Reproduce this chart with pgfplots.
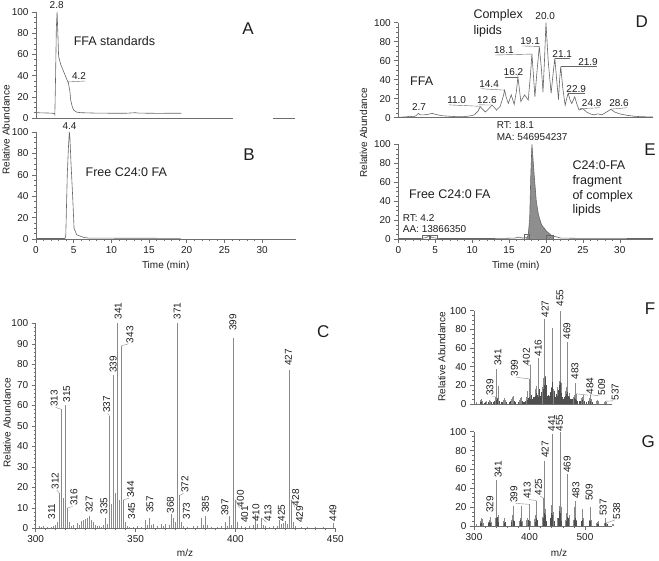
\documentclass[border=0pt]{standalone}
\usepackage{fontspec}
\setmainfont{Liberation Sans}
\usepackage{pgfplots}
\pgfplotsset{compat=1.18}
\definecolor{axc}{HTML}{6E6E6E}
\definecolor{trc}{HTML}{666666}
\definecolor{txt}{HTML}{1E1E1E}
\definecolor{stk}{HTML}{8A8A8A}
\definecolor{dstk}{HTML}{4E4E4E}
\definecolor{fillg}{HTML}{8E8E8E}
\newcommand\fs{\fontsize{10}{11}\selectfont}
\newcommand\fm{\fontsize{12.5}{14}\selectfont}
\newcommand\fl{\fontsize{17}{19}\selectfont}
\newcommand\rl[3]{\node[rotate=90,anchor=west,font=\fs,text=txt,inner sep=0.5pt] at (axis cs:#1,#2) {#3};}
\newcommand\pl[3]{\node[anchor=south,font=\fs,text=txt,inner sep=0.5pt] at (axis cs:#1,#2) {#3};}
\pgfplotsset{
 panel/.style={scale only axis, clip=false,
   axis x line*=bottom, axis y line*=left,
   axis line style={-, draw=axc, line width=0.6pt},
   tick style={draw=axc, line width=0.5pt},
   tick align=outside, major tick length=4pt, minor tick length=2pt,
   tick label style={font=\fs, text=txt},
   /pgf/number format/assume math mode=true,
   ymin=0, ymax=100, ytick={0,20,...,100}, minor y tick num=3},
 chrom/.style={panel, xmin=0, xmax=34.5},
 tline/.style={trc, line width=0.6pt, no markers},
 spec/.style={panel, xmin=300, xmax=548, ytick={0,20,...,100}, minor y tick num=3},
}
\begin{document}
\begin{tikzpicture}
\path[use as bounding box] (0pt,0pt) rectangle (659pt,560pt);

% ---------- A ----------
\begin{axis}[chrom, at={(36pt,442pt)}, anchor=south west, width=260pt, height=106pt, hide x axis]
\addplot[tline] coordinates {(0,5)(1,4.8)(2,4.6)(2.45,4.2)(2.5,3.2)(2.6,40)(2.7,85)(2.8,100)(2.9,80)(3.0,58)(3.3,50)(3.6,45)(4.0,38)(4.3,33)(4.5,25)(4.6,17)(4.8,11)(5.0,7.5)(5.4,5.5)(6,5)(8,4.6)(10,4.5)(12,4.5)(13.2,5)(13.6,4.6)(16,4.4)(19.3,4.5)};
\draw[axc, line width=0.6pt] (axis cs:0,0) -- (axis cs:26.1,0) (axis cs:31.5,0) -- (axis cs:34.4,0);
\end{axis}

% ---------- B ----------
\begin{axis}[chrom, at={(36pt,321pt)}, anchor=south west, width=260pt, height=107pt,
  xtick={0,5,...,30}, minor x tick num=4]
\addplot[tline] coordinates {(0,0.5)(3.85,0.5)(3.95,3)(4.15,60)(4.3,85)(4.42,100)(4.5,95)(4.65,70)(4.87,39)(5.05,10)(5.4,4)(6.3,1.5)(7,0.8)(19.2,0.6)};
\end{axis}

% ---------- D ----------
\begin{axis}[chrom, at={(398.3pt,442.3pt)}, anchor=south west, width=254.7pt, height=95pt, xtick=\empty]
\addplot[tline] coordinates {(0,0.5)(1,0.8)(1.5,1.5)(2.0,1)(2.4,2)(2.7,4.5)(3.0,3)(3.5,3)(4.0,3.5)(4.6,4.5)(5.2,3.2)(6,2)(7,1.5)(8,1)(9,1.2)(9.8,2)(10.3,3)(10.8,7)(11.1,11.6)(11.4,9)(11.8,6)(12.2,9)(12.7,13.3)(13.0,11)(13.3,8)(13.8,12)(14.2,22)(14.4,29)(14.6,22)(14.9,15)(15.3,24)(15.7,14)(16.0,28)(16.2,43)(16.4,30)(16.6,17)(17.1,24)(17.6,18.6)(17.9,45)(18.1,67)(18.3,45)(18.5,22)(18.8,50)(19.1,75)(19.4,50)(19.6,27)(19.8,60)(20.0,100)(20.3,60)(20.7,25.6)(20.95,45)(21.2,62.5)(21.45,40)(21.7,19)(21.85,40)(22.0,53.7)(22.3,30)(22.6,13)(22.8,20)(23.0,25.6)(23.3,18)(23.5,15)(23.9,22)(24.2,14)(24.5,8)(25.0,9.5)(25.5,6)(26.0,4)(26.5,3)(27,4)(27.6,3)(28.0,5)(28.8,8.8)(29.3,6)(30,4)(31,2.5)(32,1.5)(33,1)(34.5,0.8)};
\pl{2.8}{6.5}{2.7}
\pl{7.9}{14}{11.0} \draw[trc,line width=0.4pt] (axis cs:6.9,13.5)--(axis cs:11.1,12);
\pl{12.0}{14}{12.6} \draw[trc,line width=0.4pt] (axis cs:10.9,13.5)--(axis cs:12.7,13.3);
\pl{12.3}{31}{14.4} \draw[trc,line width=0.4pt] (axis cs:11.2,30.5)--(axis cs:14.4,29);
\pl{15.6}{43.5}{16.2} \draw[trc,line width=0.4pt] (axis cs:14.5,43)--(axis cs:16.2,43);
\pl{14.3}{66.5}{18.1} \draw[trc,line width=0.4pt] (axis cs:13.1,66)--(axis cs:18.1,67);
\pl{17.85}{76}{19.1} \draw[trc,line width=0.4pt] (axis cs:16.8,75.5)--(axis cs:19.1,75);
\pl{19.9}{102}{20.0}
\pl{22.2}{63}{21.1} \draw[trc,line width=0.4pt] (axis cs:21.2,62.5)--(axis cs:23.3,62.5);
\pl{25.7}{54}{21.9} \draw[trc,line width=0.4pt] (axis cs:22.0,53.7)--(axis cs:26.9,53.7);
\pl{24.1}{26}{22.9} \draw[trc,line width=0.4pt] (axis cs:23.0,25.6)--(axis cs:25.3,25.6);
\pl{26.2}{11}{24.8} \draw[trc,line width=0.4pt] (axis cs:24.6,9.5)--(axis cs:27.3,10.5);
\pl{29.9}{11}{28.6} \draw[trc,line width=0.4pt] (axis cs:28.8,9)--(axis cs:31.0,10.5);
\end{axis}

% ---------- E ----------
\begin{axis}[chrom, at={(398.3pt,321pt)}, anchor=south west, width=254.7pt, height=94.7pt,
  xtick={0,5,...,30}, minor x tick num=4]
\addplot[fill=fillg, draw=none] coordinates {(17.3,0)(17.4,1.5)(17.6,4)(17.8,22)(17.95,68)(18.1,100)(18.4,68)(18.7,39)(19.0,25)(19.4,15)(20.1,8)(20.8,3.5)(21.0,3)(21.0,0)} \closedcycle;
\addplot[tline] coordinates {(0,0.5)(3,0.5)(3.8,1.5)(4.2,3.5)(4.6,1.5)(5.5,0.5)(10,0.5)(14,0.6)(15.8,1)(16.3,2)(16.8,1)(17.4,1.5)(17.6,4)(17.8,22)(17.95,68)(18.1,100)(18.4,68)(18.7,39)(19.0,25)(19.4,15)(20.1,8)(20.8,3.5)(22,1)(25,0.6)(30,0.6)(34.5,0.5)};
\addplot[trc, line width=0.4pt] coordinates {(3.2,0)(3.2,4)(4.2,4)(4.2,0)};
\addplot[trc, line width=0.4pt] coordinates {(4.3,0)(4.3,4)(5.3,4)(5.3,0)};
\addplot[trc, line width=0.4pt] coordinates {(17.05,0)(17.05,5)(17.7,5)(17.7,0)};
\addplot[trc, line width=0.4pt] coordinates {(20.1,0)(20.1,4)(21.0,4)(21.0,0)};
\end{axis}

% ---------- C ----------
\begin{axis}[panel, at={(35.7pt,31.7pt)}, anchor=south west, width=299.6pt, height=205pt,
  xmin=300, xmax=450, xtick={300,350,400,450}, minor x tick num=9,
  ytick={0,10,...,100}, minor y tick num=4]
\addplot[ycomb, stk, line width=0.8pt, no markers] coordinates {(302,1)(303,0.7)(304,1)(306,0.8)(308,0.7)(309,1)(310,1.5)(311,3)(312,17)(313,58)(314,15)(315,60)(316,10)(317,3)(318,1)(319,1.5)(321,2.5)(322,1.5)(323,3.5)(324,4)(325,4.5)(326,5)(327,6)(328,4)(329,3)(330,1.5)(331,1)(332,1)(333,0.8)(334,1.5)(335,5)(336,2)(337,55)(338,12)(339,75)(340,17)(341,100)(342,14)(343,89)(344,14)(345,3)(346,1)(347,0.8)(349,0.7)(351,1)(353,0.8)(355,4)(356,1.5)(357,5)(358,1.5)(359,2)(361,1)(363,2)(364,1)(365,2)(367,1.5)(368,7)(369,5)(370,3)(371,100)(372,16)(373,3)(374,1)(376,0.8)(379,1)(381,1)(383,5)(384,1.5)(385,6)(386,1.5)(388,0.8)(391,0.8)(393,1)(395,3)(396,1)(397,6)(398,1.5)(399,93)(400,14)(401,3)(403,1)(405,0.8)(407,1)(409,1.5)(410,7)(411,2)(413,5)(414,1.5)(415,1)(417,0.8)(419,1)(421,1)(422,4)(423,2)(424,2.5)(425,3.5)(426,2)(427,77)(428,14)(429,3)(430,1)(433,0.7)(436,0.7)(440,0.7)(444,0.7)(449,2.5)};
\rl{308}{4}{311} \rl{309.7}{18.7}{312} \rl{309.3}{59}{313} \rl{315.5}{61}{315}
\rl{319.2}{10.6}{316} \rl{326.8}{7.3}{327} \rl{334.2}{6.5}{335} \rl{335.5}{56}{337}
\rl{338.8}{75.6}{339} \rl{341.3}{101.6}{341} \rl{347.2}{90}{343} \rl{347.5}{14.6}{344}
\rl{348}{4}{345} \rl{357.2}{7.3}{357} \rl{367.5}{7}{368} \rl{370.8}{101.6}{371}
\rl{374.7}{17}{372} \rl{375.5}{4}{373} \rl{385}{7.3}{385} \rl{394.7}{5.7}{397}
\rl{398.8}{96}{399} \rl{402.5}{10}{400} \rl{404.6}{2.4}{401} \rl{410.2}{3.2}{410}
\rl{416.3}{3}{413} \rl{423}{3}{425} \rl{426.5}{79}{427} \rl{430.2}{10.5}{428}
\rl{432.2}{2.4}{429} \rl{448.8}{3}{449}
\draw[stk,line width=0.4pt] (axis cs:313,58)--(axis cs:310,59) (axis cs:312,17)--(axis cs:310.5,18.7) (axis cs:316,10)--(axis cs:318.5,10.6) (axis cs:337,55)--(axis cs:336,56) (axis cs:343,89)--(axis cs:346.5,90) (axis cs:344,14)--(axis cs:346.8,14.6) (axis cs:372,16)--(axis cs:374,17) (axis cs:400,14)--(axis cs:402,10) (axis cs:428,14)--(axis cs:429.7,10.5) (axis cs:413,5)--(axis cs:415.6,3);
\end{axis}

% ---------- F ----------
\begin{axis}[spec, at={(474pt,156pt)}, anchor=south west, width=137.6pt, height=93.3pt, xtick=\empty]
\addplot[ycomb, stk, line width=0.7pt, no markers] coordinates {(305,2)(311,4)(313,5)(315,3)(323,3)(327,4)(329,3)(339,8)(341,38)(343,19)(353,4)(355,6)(357,4)(367,5)(369,7)(371,9)(381,4)(383,6)(385,8)(395,8)(397,14)(399,27)(402,42)(411,16)(413,19)(416,49)(423,18)(425,28)(427,91)(429,30)(437,12)(439,18)(441,81)(443,16)(451,18)(453,25)(455,100)(457,23)(465,14)(467,18)(469,66)(471,12)(479,8)(481,10)(483,23)(484,11)(493,6)(495,8)(497,10)(507,6)(509,10)(511,5)(521,3)(523,4)(525,3)(535,2)(537,3)(539,2)};
\addplot[ycomb, dstk, line width=0.6pt, no markers] coordinates {(312,2)(314,2)(318,1.5)(320,2)(325,2)(331,2)(335,2)(337,3)(340,4)(342,6)(345,3)(349,2)(351,2)(359,2)(363,2)(365,3)(373,3)(375,2)(379,2)(387,3)(389,2)(391,2)(393,3)(396,4)(398,6)(400,8)(401,5)(403,10)(404,7)(405,5)(406,8)(407,6)(408,4)(409,7)(410,9)(412,12)(414,10)(415,7)(417,12)(418,16)(419,9)(420,7)(421,10)(422,13)(424,16)(426,20)(428,29)(430,20)(431,12)(432,9)(433,7)(434,10)(435,8)(436,9)(438,13)(440,17)(442,24)(444,14)(445,9)(446,7)(447,8)(448,11)(449,7)(450,9)(452,15)(454,20)(456,24)(458,12)(459,8)(460,6)(461,5)(462,8)(463,7)(464,9)(466,11)(468,13)(470,9)(472,7)(473,5)(474,4)(475,4)(476,5)(477,5)(478,4)(480,6)(482,5)(485,4)(487,3)(490,3)(492,3)(496,4)(498,3)(502,2)(506,3)(510,3)(514,2)};
\rl{328.5}{7.9}{339} \rl{343}{40}{341} \rl{373}{28.8}{399} \rl{394.5}{41}{402}
\rl{415.6}{50.5}{416} \rl{428}{92}{427} \rl{455}{104}{455} \rl{467.5}{68.6}{469}
\rl{482}{25.7}{483} \rl{509}{9.5}{484} \rl{530}{8.7}{509} \rl{554.5}{3.4}{537}
\draw[stk,line width=0.4pt] (axis cs:339,8)--(axis cs:333,8) (axis cs:399,27)--(axis cs:377,28.5) (axis cs:402,42)--(axis cs:398,41) (axis cs:484,11)--(axis cs:505,9.5) (axis cs:509,10)--(axis cs:526,8.7) (axis cs:537,3)--(axis cs:551,3.4);
\end{axis}

% ---------- G ----------
\begin{axis}[spec, at={(474pt,34pt)}, anchor=south west, width=137.6pt, height=94.3pt,
  xtick={300,400,500}, minor x tick num=4]
\addplot[ycomb, stk, line width=0.7pt, no markers] coordinates {(305,2)(311,5)(313,8)(315,7)(317,3)(325,4)(327,6)(329,10)(331,4)(339,8)(341,49)(343,12)(353,5)(355,8)(357,4)(367,6)(369,12)(371,21)(373,5)(381,5)(383,8)(385,21)(387,5)(395,6)(397,8)(399,23)(401,5)(409,7)(411,12)(413,27)(415,6)(423,10)(425,30)(427,69)(429,18)(437,8)(439,22)(441,98)(443,15)(451,8)(453,21)(455,100)(457,20)(465,6)(467,14)(469,55)(471,12)(479,6)(481,20)(483,27)(485,6)(493,5)(495,18)(497,8)(507,6)(509,20)(511,6)(521,3)(523,4)(525,5)(535,3)(537,8)(538,3)(549,2)(551,2)};
\addplot[ycomb, dstk, line width=0.6pt, no markers] coordinates {(312,3)(314,3)(326,3)(328,4)(330,3)(340,8)(342,10)(344,4)(354,3)(356,4)(368,4)(370,6)(372,5)(384,6)(386,4)(398,6)(400,5)(410,4)(412,8)(414,6)(424,8)(426,14)(428,12)(430,5)(438,8)(440,14)(442,12)(444,5)(452,8)(454,16)(456,14)(458,5)(466,5)(468,10)(470,8)(480,6)(482,8)(484,5)(494,5)(496,6)(508,5)(510,5)(522,2)(524,2)(536,3)(540,2)};
\rl{328.8}{13.4}{329} \rl{343.5}{50.5}{341} \rl{372}{24}{399} \rl{396}{28}{413}
\rl{416}{31.8}{425} \rl{428}{71.7}{427} \rl{440}{99.5}{441} \rl{454}{99.5}{455}
\rl{468}{55.8}{469} \rl{483.8}{28}{483} \rl{507.8}{25.8}{509} \rl{533}{9.9}{537}
\rl{557}{6.4}{538}
\draw[stk,line width=0.4pt] (axis cs:399,23)--(axis cs:375,24) (axis cs:413,27)--(axis cs:399,28) (axis cs:425,30)--(axis cs:419,31.8) (axis cs:538,3)--(axis cs:554,6.4);
\end{axis}

% ---------- absolute texts ----------
\begin{scope}[x=1pt,y=-1pt,shift={(0pt,560pt)}]
\tikzset{every node/.style={text=txt, inner sep=0pt}}
% A/B
\node[font=\fs] at (56.7,5) {2.8};
\node[font=\fs] at (79,76.5) {4.2};
\draw[trc,line width=0.4pt] (66.7,82)--(85,81);
\node[font=\fm] at (114.5,40.7) {FFA standards};
\node[font=\fl] at (248,28.3) {A};
\node[font=\fs] at (69.5,126) {4.4};
\node[font=\fm] at (126.3,172.3) {Free C24:0 FA};
\node[font=\fl] at (249,154.3) {B};
\node[font=\fs] at (165.7,266) {Time (min)};
\node[font=\fs, rotate=90] at (6,130) {Relative Abundance};
% D/E
\node[font=\fs, rotate=90] at (363.5,133) {Relative Abundance};
\node[font=\fm] at (421.7,81) {FFA};
\node[font=\fm, anchor=west] at (473.3,15) {Complex};
\node[font=\fm, anchor=west] at (473.3,31.7) {lipids};
\node[font=\fl] at (641.7,21.7) {D};
\node[font=\fs, anchor=west] at (496.7,125) {RT: 18.1};
\node[font=\fs, anchor=west] at (496.7,136.7) {MA: 546954237};
\node[font=\fl] at (650,150) {E};
\node[font=\fm, anchor=west] at (572.3,165.7) {C24:0-FA};
\node[font=\fm, anchor=west] at (572.3,181) {fragment};
\node[font=\fm, anchor=west] at (572.3,196) {of complex};
\node[font=\fm, anchor=west] at (572.3,210.7) {lipids};
\node[font=\fm, anchor=west] at (409,194) {Free C24:0 FA};
\node[font=\fs, anchor=west] at (402.7,217.7) {RT: 4.2};
\node[font=\fs, anchor=west] at (402.7,229) {AA: 13866350};
\node[font=\fs] at (515.7,265.7) {Time (min)};
% C
\node[font=\fs, rotate=90] at (7,423) {Relative Abundance};
\node[font=\fs] at (185,553) {m/z};
\node[font=\fl] at (323.3,331.7) {C};
% F/G
\node[font=\fs, rotate=90] at (441.7,356.7) {Relative Abundance};
\node[font=\fl] at (650,308.3) {F};
\node[font=\fl] at (648.3,441.7) {G};
\node[font=\fs] at (559,553) {m/z};
\end{scope}
\end{tikzpicture}
\end{document}
